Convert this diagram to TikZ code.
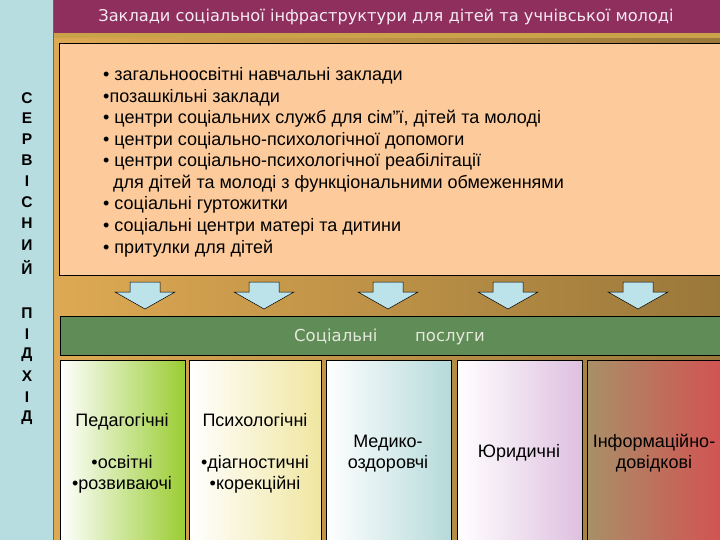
\documentclass[tikz,border=0pt]{standalone}
\usepackage{fontspec}
\setmainfont{Liberation Sans}
\newfontfamily\titlefont{DejaVu Sans}
\definecolor{stripblue}{HTML}{B8DDE1}
\definecolor{titlepurple}{HTML}{8E2F5E}
\definecolor{titlegold}{HTML}{C9A24A}
\definecolor{bgleft}{HTML}{DEA953}
\definecolor{bgright}{HTML}{9A783A}
\definecolor{peach}{HTML}{FDCB9B}
\definecolor{arrowblue}{HTML}{BCE2EA}
\definecolor{bargreen}{HTML}{5F8C57}
\definecolor{bartext}{HTML}{E6E8DC}
\definecolor{titletext}{HTML}{F6EAF2}
\definecolor{cAright}{HTML}{9ACD32}
\definecolor{cAmid}{HTML}{D4E69A}
\definecolor{cBright}{HTML}{F0E6A0}
\definecolor{cBmid}{HTML}{FAF3D6}
\definecolor{cCright}{HTML}{B6DADA}
\definecolor{cCmid}{HTML}{DCEDED}
\definecolor{cDright}{HTML}{DEC0E0}
\definecolor{cDmid}{HTML}{F2E0EC}
\definecolor{cEleft}{HTML}{A89068}
\definecolor{cEmid}{HTML}{C29C7E}
\definecolor{cEright}{HTML}{D25252}
\begin{document}
\begin{tikzpicture}[x=1pt,y=-1pt,
  vletter/.style={font=\bfseries\fontsize{15.5}{15.5}\selectfont, anchor=center, inner sep=0},
  listline/.style={font=\fontsize{18}{20}\selectfont, anchor=base west, inner sep=0},
  coltext/.style={font=\fontsize{18}{20}\selectfont, anchor=base, inner sep=0},
  bartxt/.style={font=\titlefont\fontsize{16.5}{18}\selectfont, text=bartext, anchor=base west, inner sep=0},
  blockarrow/.style={fill=arrowblue, draw=black, line width=0.5pt, line join=miter},
  colbox/.style={draw=black, line width=0.8pt}]
\useasboundingbox (0,0) rectangle (720,540);
% background
\fill[left color=bgleft, right color=bgright] (53,0) rectangle (720,540);
% left strip
\fill[stripblue] (0,0) rectangle (53,540);
\draw[black!60, line width=0.6pt] (53,0) -- (53,540);
% title bar
\fill[titlepurple] (54,0) rectangle (720,33);
\fill[titlegold] (54,33) rectangle (720,38);
\node[font=\titlefont\fontsize{16.2}{18}\selectfont, text=titletext, inner sep=0] (title) at (386,17) {Заклади соціальної інфраструктури для дітей та учнівської молоді};
% vertical letters
\foreach \ch/\yy [count=\i] in {С/98,Е/118,Р/139,В/160,І/181,С/202,Н/223,И/245,Й/267}
  \node[vletter] (s\i) at (27,\yy) {\ch};
\foreach \ch/\yy [count=\i] in {П/313,І/334,Д/355,Х/376,І/397,Д/418}
  \node[vletter] (p\i) at (27,\yy) {\ch};
% institutions box
\draw[fill=peach, draw=black, line width=0.8pt] (59,43) rectangle (723,275);
\node[listline] (l1) at (103,81) {• загальноосвітні навчальні заклади};
\node[listline] (l2) at (103,102.5) {•позашкільні заклади};
\node[listline] (l3) at (103,124) {• центри соціальних служб для сім"ї, дітей та молоді};
\node[listline] (l4) at (103,145.5) {• центри соціально-психологічної допомоги};
\node[listline] (l5) at (103,167) {• центри соціально-психологічної реабілітації};
\node[listline] (l6) at (113,188.5) {для дітей та молоді з функціональними обмеженнями};
\node[listline] (l7) at (103,210) {• соціальні гуртожитки};
\node[listline] (l8) at (103,231.5) {• соціальні центри матері та дитини};
\node[listline] (l9) at (103,253) {• притулки для дітей};
% block arrows
\foreach \cx in {145,264,388,508,638}
  \draw[blockarrow] (\cx-15,282) -- (\cx+15,282) -- (\cx+15,292) -- (\cx+30,292) -- (\cx,309) -- (\cx-30,292) -- (\cx-15,292) -- cycle;
% services bar
\draw[fill=bargreen, draw=black, line width=0.8pt] (60,316) rectangle (723,355);
\node[bartxt] (services) at (294,341) {Соціальні};
\node[bartxt] (services2) at (415,341) {послуги};
% columns
\draw[colbox, left color=white, middle color=cAmid, right color=cAright] (60,360) rectangle (185,543);
\draw[colbox, left color=white, middle color=cBmid, right color=cBright] (189,360) rectangle (321,543);
\draw[colbox, left color=white, middle color=cCmid, right color=cCright] (326,360) rectangle (451,543);
\draw[colbox, left color=white, middle color=cDmid, right color=cDright] (457,360) rectangle (582,543);
\draw[colbox, left color=cEleft, middle color=cEmid, right color=cEright] (587,360) rectangle (723,543);
% column texts
\node[coltext] (c1a) at (122,426) {Педагогічні};
\node[coltext] (c1b) at (122,468) {•освітні};
\node[coltext] (c1c) at (122,489) {•розвиваючі};
\node[coltext] (c2a) at (255,426) {Психологічні};
\node[coltext] (c2b) at (255,468) {•діагностичні};
\node[coltext] (c2c) at (255,489) {•корекційні};
\node[coltext] (c3a) at (388,447) {Медико-};
\node[coltext] (c3b) at (388,468) {оздоровчі};
\node[coltext] (c4a) at (519,457) {Юридичні};
\node[coltext] (c5a) at (654,447) {Інформаційно-};
\node[coltext] (c5b) at (654,468) {довідкові};
\end{tikzpicture}
\end{document}
